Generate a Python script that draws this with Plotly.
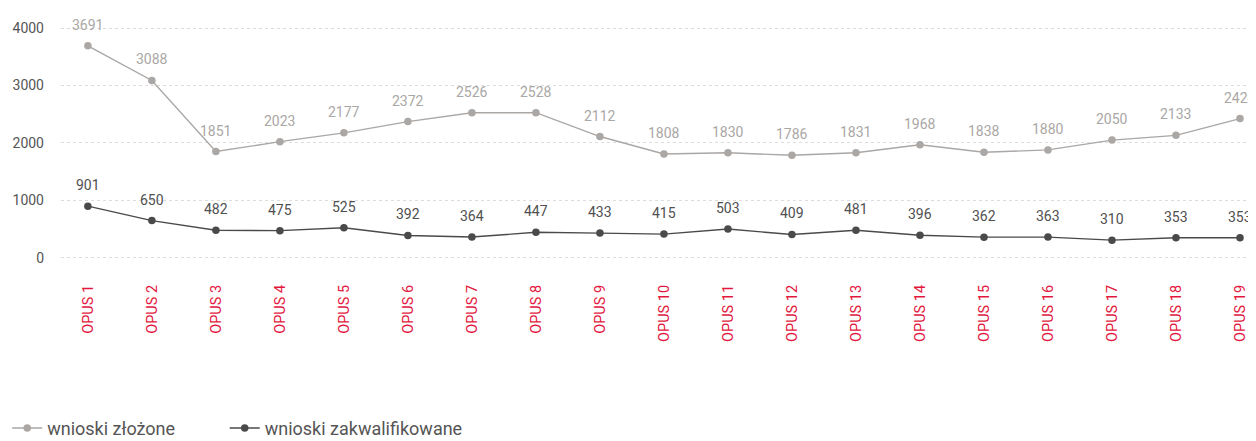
import plotly.graph_objects as go

categories = [f"OPUS {i}" for i in range(1, 20)]
zlozone = [3691, 3088, 1851, 2023, 2177, 2372, 2526, 2528, 2112, 1808, 1830, 1786, 1831, 1968, 1838, 1880, 2050, 2133, 2424]
zakwalifikowane = [901, 650, 482, 475, 525, 392, 364, 447, 433, 415, 503, 409, 481, 396, 362, 363, 310, 353, 353]
ytick_vals = [0, 1000, 2000, 3000, 4000]

FONT = "Roboto"
GREY = "#aaa7a5"
DARK = "#4a4a4a"
RED = "#e3173e"

fig = go.Figure()
fig.add_trace(go.Scatter(
    x=categories, y=zlozone, name="wnioski złożone", mode="lines+markers",
    line=dict(color=GREY, width=1.4), marker=dict(color=GREY, size=7.5),
    legend="legend",
))
fig.add_trace(go.Scatter(
    x=categories, y=zakwalifikowane, name="wnioski zakwalifikowane", mode="lines+markers",
    line=dict(color=DARK, width=1.4), marker=dict(color=DARK, size=7.5),
    legend="legend2",
))

for series, color in ((zlozone, GREY), (zakwalifikowane, "#505050")):
    for c, v in zip(categories, series):
        fig.add_annotation(x=c, y=v, text=str(v), showarrow=False, yshift=21,
                           font=dict(family=FONT, size=14, color=color))

legend_common = dict(orientation="h", xanchor="left", y=-0.655, yanchor="middle",
                     font=dict(family=FONT, size=18, color="#555555"), itemwidth=30)

fig.update_layout(
    width=1248, height=433,
    margin=dict(l=53, r=0, t=0, b=179, autoexpand=False),
    paper_bgcolor="white", plot_bgcolor="white",
    font=dict(family=FONT, color="#555555"),
    showlegend=True,
    legend=dict(x=-0.045, **legend_common),
    legend2=dict(x=0.137, **legend_common),
    xaxis=dict(type="category", range=[-0.42, 18.25], showgrid=False, showline=False,
               zeroline=False, ticks="", tickangle=-90, automargin=False,
               ticklabelstandoff=19,
               tickfont=dict(family=FONT, size=14.5, color=RED)),
    yaxis=dict(range=[-70, 4348], tickvals=ytick_vals, showgrid=True, gridcolor="#dddddd",
               griddash="dot", gridwidth=1, zeroline=False, showline=False, ticks="",
               automargin=False, ticklabelstandoff=16,
               tickfont=dict(family=FONT, size=14, color="#555555")),
)

fig.write_html("out.html")
